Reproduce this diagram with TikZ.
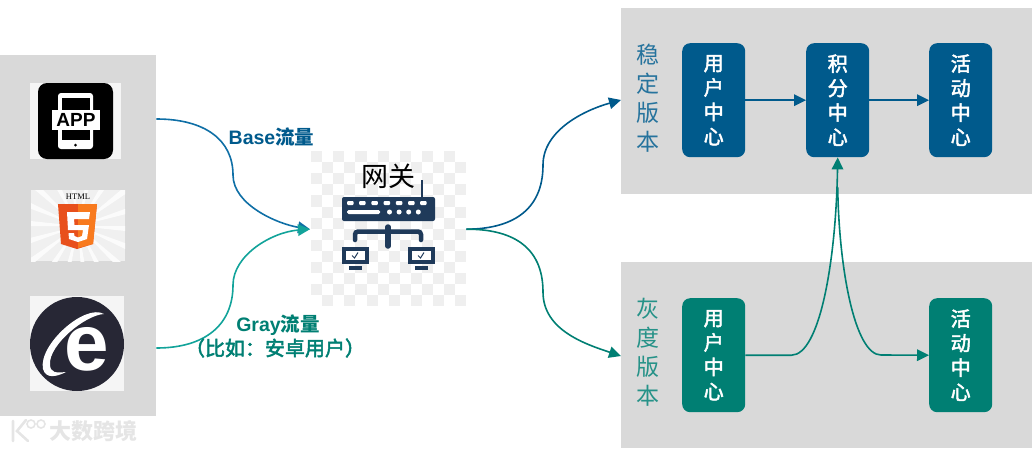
\documentclass[tikz,border=0pt]{standalone}
\usepackage{fontspec}
\setmainfont{Liberation Sans}
\newfontfamily\cjk{Noto Sans CJK SC}
\newfontfamily\cjkmed[FakeBold=2.5]{Noto Sans CJK SC}
\newfontfamily\serifbold{Liberation Serif}
\usepackage{tikz}
\usetikzlibrary{arrows.meta,positioning,calc}
\definecolor{panelgray}{HTML}{D9D9D9}
\definecolor{stableblue}{HTML}{005A8C}
\definecolor{grayteal}{HTML}{007F73}
\definecolor{basecurve}{HTML}{0F6FA6}
\definecolor{graycurve}{HTML}{12A39A}
\definecolor{routerblue}{HTML}{1F3A5A}
\definecolor{checker}{HTML}{EFEFEF}
\definecolor{iedark}{HTML}{272735}
\definecolor{htmlred}{HTML}{E8501C}
\definecolor{htmlorange}{HTML}{F87A1E}
\definecolor{raybase}{HTML}{F0F0F0}
\definecolor{raylight}{HTML}{FBFBFB}
\tikzset{
    panel/.style={fill=panelgray, draw=none, inner sep=0pt, anchor=north west},
    svcbox/.style={rounded corners=8pt, draw=none, inner sep=0pt, anchor=north west,
        minimum width=63pt, minimum height=114pt, text=white, align=center,
        font=\fontsize{20}{24.5}\selectfont\cjkmed},
    sidelabel/.style={align=center, font=\fontsize{23}{29}\selectfont\cjk},
    flowlabel/.style={font=\fontsize{19.5}{22}\selectfont\bfseries},
    link/.style={-{Triangle[length=12pt,width=11.5pt]}, line width=1.6pt}
}
\begin{document}
\begin{tikzpicture}[x=1pt, y=-1pt]
    \useasboundingbox (0,0) rectangle (1032,450);

    % Panels
    \node[panel, minimum width=156pt, minimum height=361pt] (clients) at (0,55) {};
    \node[panel, minimum width=411pt, minimum height=186pt] (stable) at (621,8) {};
    \node[panel, minimum width=411pt, minimum height=186pt] (gray) at (621,262) {};

    % Checker behind the gateway
    \foreach \i in {0,...,13} {
        \foreach \j in {0,...,13} {
            \pgfmathparse{int(mod(\i+\j,2))}
            \ifnum\pgfmathresult=0
                \fill[checker] (311+\i*11.1,151+\j*11.1) rectangle ++(11.1,11.1);
            \fi
        }
    }
    \node[inner sep=0pt, minimum size=156pt, anchor=north west] (gateway) at (310,151) {};

    % APP icon
    \fill[white!96!black] (30,83) rectangle (121,159);
    \fill[black, rounded corners=9pt] (38,83) rectangle (113,159);
    \fill[white, rounded corners=3pt] (58,93) rectangle (93,149);
    \fill[black] (62,98) rectangle (90,140);
    \fill[white] (52,110) rectangle (100,130);
    \fill[black] (75.5,145) circle (1.5);
    \node[font=\fontsize{19}{19}\selectfont\bfseries, inner sep=0pt] (apptext) at (76,120) {APP};

    % HTML5 icon
    \fill[raybase] (31,190) rectangle (125,261);
    \begin{scope}
        \clip (31,190) rectangle (125,261);
        \foreach \a in {0,20,...,340} {
            \fill[raylight] (78,226) -- +(\a:70) -- +(\a+6:70) -- cycle;
        }
    \end{scope}
    \node[font=\fontsize{8.5}{9}\selectfont\serifbold, inner sep=0pt] (htmltext) at (78,197) {HTML};
    \fill[htmlred] (58,204) -- (97,204) -- (93,244) -- (77,249) -- (61,244) -- cycle;
    \fill[htmlorange] (78,204) -- (97,204) -- (93,244) -- (78,248) -- cycle;
    \fill[white] (67,212) -- (90,212) -- (89,219) -- (74,219) -- (74.5,225) -- (89,225)
        -- (87,239) -- (78,242) -- (69,239) -- (68.5,233) -- (74,233) -- (74.5,236)
        -- (78,237.5) -- (82,236) -- (83,230) -- (68,230) -- cycle;

    % Browser icon
    \fill[white!96!black] (30,296) rectangle (124,391);
    \fill[iedark] (77,344) circle (47);
    \node[font=\fontsize{80}{80}\selectfont\bfseries, text=white, inner sep=0pt] (ietext) at (87,349) {e};
    \fill[white] (104,314) .. controls (85,303) and (38,345) .. (43,369)
        .. controls (46,379) and (56,377) .. (66,372)
        .. controls (56,373) and (50,373) .. (50,364)
        .. controls (49,345) and (85,315) .. cycle;

    % Router icon
    \node[font=\fontsize{27}{30}\selectfont\cjk, inner sep=0pt] (gatewaytext) at (388,176) {网关};
    \draw[routerblue, line width=1.6pt] (422,180) -- (422,198);
    \fill[routerblue, rounded corners=2pt] (342,197) rectangle (435,221);
    \foreach \i in {0,...,6} {
        \fill[white, rounded corners=1pt] (347+\i*12.2,201) rectangle ++(6.5,4);
    }
    \fill[white, rounded corners=1.5pt] (347,210) rectangle (380,214);
    \foreach \i in {0,...,3} {
        \fill[white] (389.5+\i*9.6,212) circle (2.5);
    }
    \draw[routerblue, line width=4.5pt, line cap=round, rounded corners=3pt]
        (355,240) -- (355,231.5) -- (421,231.5) -- (421,240);
    \draw[routerblue, line width=5.5pt, line cap=round] (388,227) -- (388,246);
    \foreach \x in {342,408} {
        \fill[routerblue] (\x,247) rectangle ++(27,17);
        \fill[white] (\x+4,251) rectangle ++(19,9);
        \draw[routerblue, line width=1pt] (\x+10,255.5) -- (\x+12.5,258) -- (\x+16,252.5);
        \fill[routerblue] (\x+7,266) rectangle ++(13,3.5);
    }

    % Version labels
    \node[sidelabel, text=stableblue!85!white] (stablelabel) at (648,98) {稳\\定\\版\\本};
    \node[sidelabel, text=grayteal!85!white] (graylabel) at (648,352) {灰\\度\\版\\本};

    % Services
    \node[svcbox, fill=stableblue] (user1) at (682,43) {用\\户\\中\\心};
    \node[svcbox, fill=stableblue] (points1) at (806,43) {积\\分\\中\\心};
    \node[svcbox, fill=stableblue] (event1) at (929,43) {活\\动\\中\\心};
    \node[svcbox, fill=grayteal] (user2) at (682,298) {用\\户\\中\\心};
    \node[svcbox, fill=grayteal] (event2) at (929,298) {活\\动\\中\\心};

    % Calls between services
    \draw[link, stableblue] (user1) -- (points1);
    \draw[link, stableblue] (points1) -- (event1);
    \draw[link, grayteal] (user2.east) -- ++(46,0)
        .. controls (820,355) and (836,260) .. (points1.south);
    \draw[link, grayteal] (points1.south) ++(0,30)
        .. controls (839,270) and (855,355) .. (881,355) -- (event2.west);

    % Traffic curves
    \coordinate (appout) at (clients.east |- 0,119);
    \coordinate (ieout) at (clients.east |- 0,348);
    \coordinate (stablein) at (stable.west |- 0,100);
    \coordinate (grayin) at (gray.west |- 0,356);
    \draw[link, basecurve] (appout) .. controls (205,119) and (233,140) .. (233,175)
        .. controls (233,205) and (278,224) .. (gateway.west);
    \draw[link, graycurve] (ieout) .. controls (205,348) and (233,325) .. (233,285)
        .. controls (233,255) and (272,232) .. (gateway.west);
    \draw[link, stableblue] (gateway.east) .. controls (510,229) and (543,212) .. (543,165)
        .. controls (543,130) and (585,110) .. (stablein);
    \draw[link, grayteal] (gateway.east) .. controls (510,229) and (543,245) .. (543,292)
        .. controls (543,330) and (585,344) .. (grayin);

    % Traffic labels
    \node[flowlabel, text=stableblue] (baselabel) at (271.5,137) {Base{\cjk 流量}};
    \node[flowlabel, text=grayteal] (grayflow) at (278,325) {Gray{\cjk 流量}};
    \node[text=grayteal, font=\fontsize{20}{22}\selectfont\cjkmed] (graynote) at (275,348) {（比如：安卓用户）};

    % Watermark
    \node[font=\fontsize{22}{24}\selectfont\cjk\bfseries, text=black!10, inner sep=0pt] (watermark) at (93,431) {大数跨境};
    \draw[black!10, line width=2.6pt, line cap=round] (13,421) -- (13,441) (26,420) -- (17,431) -- (28,441);
    \draw[black!10, line width=1.6pt] (31,424) circle (4) (41,424) circle (4);
\end{tikzpicture}
\end{document}
